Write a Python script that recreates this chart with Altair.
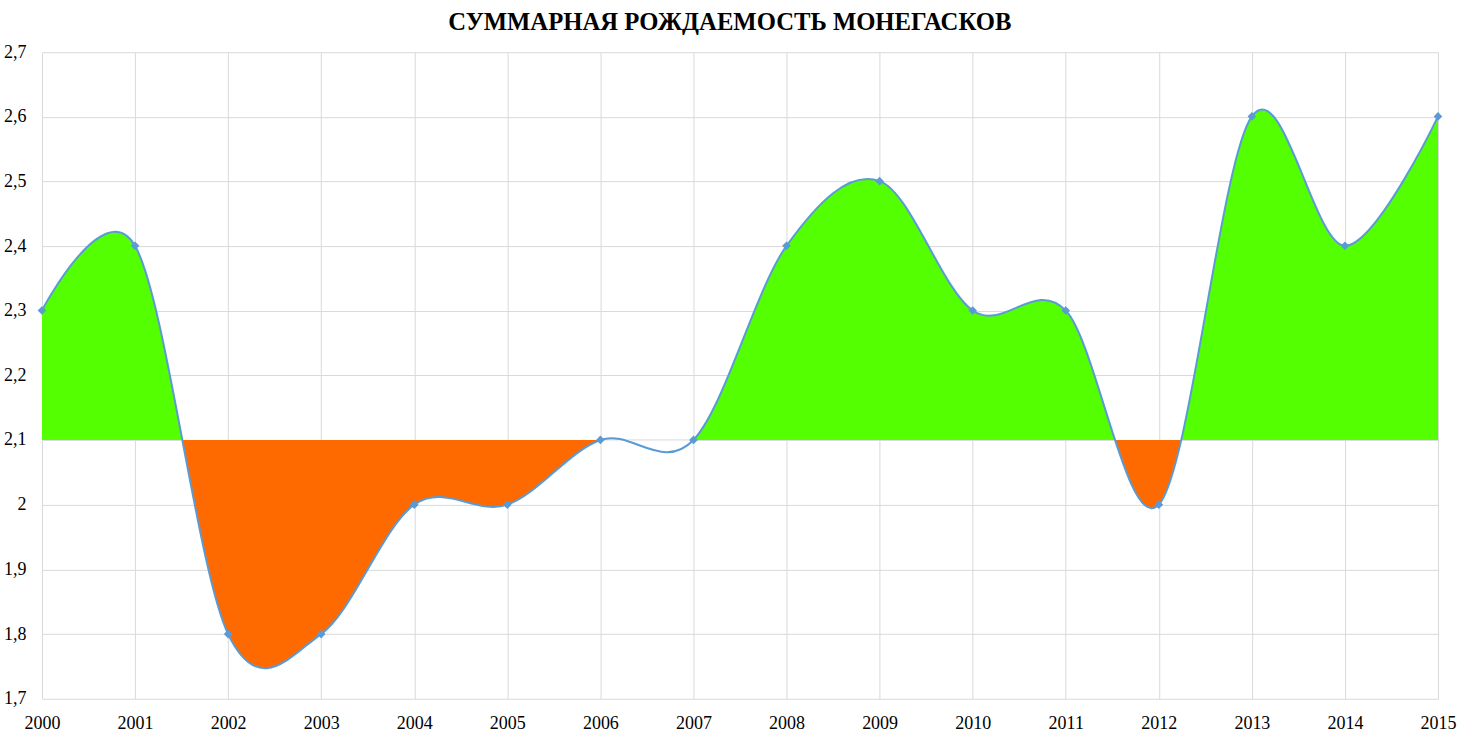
import altair as alt
import pandas as pd

# ---- data ----
years = list(range(2000, 2016))
tfr = [2.3, 2.4, 1.8, 1.8, 2.0, 2.0, 2.1, 2.1, 2.4, 2.5, 2.3, 2.3, 2.0, 2.6, 2.4, 2.6]
baseline = 2.1
y_ticks_top = [2.2, 2.3, 2.4, 2.5, 2.6, 2.7]
y_ticks_bottom = [1.7, 1.8, 1.9, 2.0, 2.1]
title_text = "СУММАРНАЯ РОЖДАЕМОСТЬ МОНЕГАСКОВ"

GREEN = "#53ff00"
ORANGE = "#ff6a00"
BLUE = "#5b9bd5"
GRID = "#d9d9d9"
FONT = "Liberation Serif"

df = pd.DataFrame({"year": years, "tfr": tfr, "base": [baseline] * len(years)})
# masks for the unfilled wiggle between 2006 and 2007
mask_lo = pd.DataFrame({"x0": [years[6] + 0.02], "x1": [years[7] - 0.02],
                        "y0": [baseline], "y1": [baseline - 0.05]})
mask_hi = pd.DataFrame({"x0": [years[6] + 0.02], "x1": [years[7] - 0.02],
                        "y0": [baseline], "y1": [baseline + 0.03]})

W = 1397
H_TOP = 388
H_BOT = 259

label_expr = "replace(format(datum.value, '.2~f'), '.', ',')"
xscale = alt.Scale(domain=[years[0], years[-1]], nice=False, zero=False)
yt = alt.Scale(domain=[baseline, 2.7], nice=False, zero=False)

# ---- top panel (above baseline): green fill ----
green = alt.Chart(df).mark_area(interpolate="cardinal", color=GREEN, opacity=1, clip=True).encode(
    x=alt.X("year:Q", scale=xscale,
            axis=alt.Axis(values=years, labels=False, ticks=False, domain=False,
                          grid=True, title=None)),
    y=alt.Y("tfr:Q", scale=yt,
            axis=alt.Axis(values=y_ticks_top, labelExpr=label_expr, title=None,
                          labelPadding=16, grid=True)),
    y2=alt.Y2("base:Q"),
)
masker_hi = alt.Chart(mask_hi).mark_rect(color="white", opacity=1).encode(
    x=alt.X("x0:Q", scale=xscale), x2="x1:Q",
    y=alt.Y("y0:Q", scale=yt), y2="y1:Q")
top = alt.layer(green, masker_hi).properties(width=W, height=H_TOP)

# ---- bottom panel (below baseline): orange fill, line, points ----
yb = alt.Scale(domain=[1.7, baseline], nice=False, zero=False)
xb = alt.X("year:Q", scale=xscale,
           axis=alt.Axis(values=years, format="d", labelFlush=False, ticks=False,
                         domain=False, grid=True, title=None, labelPadding=16))
yb_enc = alt.Y("tfr:Q", scale=yb,
               axis=alt.Axis(values=y_ticks_bottom, labelExpr=label_expr, title=None,
                             labelPadding=16, grid=True))

orange = alt.Chart(df).mark_area(interpolate="cardinal", color=ORANGE, opacity=1, clip=True).encode(
    x=xb, y=yb_enc, y2=alt.Y2("base:Q"))

masker_lo = alt.Chart(mask_lo).mark_rect(color="white", opacity=1).encode(
    x=alt.X("x0:Q", scale=xscale), x2="x1:Q",
    y=alt.Y("y0:Q", scale=yb), y2="y1:Q")

# restore the baseline gridline across the masked stretch
gridfix = alt.Chart(mask_lo).mark_rule(color=GRID, strokeWidth=1).encode(
    x=alt.X("x0:Q", scale=xscale), x2="x1:Q",
    y=alt.Y("y0:Q", scale=yb))

line = alt.Chart(df).mark_line(interpolate="cardinal", color=BLUE, strokeWidth=2, clip=False).encode(
    x=alt.X("year:Q", scale=xscale), y=alt.Y("tfr:Q", scale=yb))

pts = alt.Chart(df).mark_point(shape="diamond", filled=True, size=75, color=BLUE,
                               opacity=1, clip=False).encode(
    x=alt.X("year:Q", scale=xscale), y=alt.Y("tfr:Q", scale=yb))

bottom = alt.layer(orange, masker_lo, gridfix, line, pts).properties(width=W, height=H_BOT)

chart = alt.vconcat(top, bottom, spacing=0, bounds="flush").properties(
    title=alt.Title(title_text, font=FONT, fontSize=24.7, fontWeight="bold", color="#000000",
                    anchor="middle", frame="bounds", offset=9),
    padding={"left": 3, "top": 9, "right": 4, "bottom": 0},
    background="white",
).configure_view(stroke=None).configure_axis(
    labelFont=FONT, labelFontSize=18, labelColor="#000000", gridColor=GRID, gridWidth=1,
    domain=False, ticks=False,
)

chart.save("out.html", embed_options={"renderer": "svg", "actions": False})
